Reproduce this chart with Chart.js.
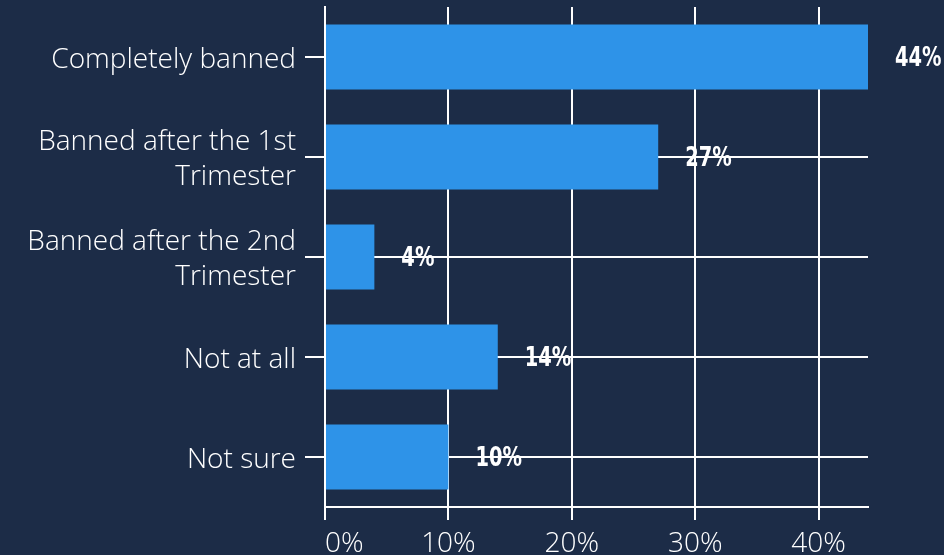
<!DOCTYPE html>
<html>
<head>
<meta charset="utf-8">
<script src="https://cdn.jsdelivr.net/npm/chart.js@4.4.0/dist/chart.umd.min.js"></script>
<style>
  html, body { margin: 0; padding: 0; background: #1c2c47; }
  #wrap { position: relative; width: 944px; height: 555px; }
</style>
</head>
<body>
<div id="wrap"><canvas id="chart"></canvas></div>
<script>
// Datos
const categories = [
  "Completely banned",
  ["Banned after the 1st", "Trimester"],
  ["Banned after the 2nd", "Trimester"],
  "Not at all",
  "Not sure"
];
const shares = [44, 27, 4, 14, 10];
const axisMax = 44;
const tickStep = 10;

const barColor = "#2e93e8";
const lineColor = "#ffffff";

// Etiquetas de valor al final de cada barra (sin plugin externo).
// La fuente se estrecha en horizontal para parecerse a la condensada original.
const valueLabels = {
  id: "valueLabels",
  afterDatasetsDraw(chart) {
    const { ctx } = chart;
    const meta = chart.getDatasetMeta(0);
    meta.data.forEach((bar, i) => {
      ctx.save();
      ctx.translate(bar.x + 27, bar.y + 2);
      ctx.scale(0.8, 1);
      ctx.fillStyle = "#ffffff";
      ctx.font = "bold 27px 'DejaVu Sans Condensed', 'DejaVu Sans', sans-serif";
      ctx.textAlign = "left";
      ctx.textBaseline = "middle";
      ctx.fillText(shares[i] + "%", 0, 0);
      ctx.restore();
    });
  }
};

const labelFont = { family: "'Open Sans', Lato, sans-serif", size: 28, weight: "300", lineHeight: 1.25 };

new Chart(document.getElementById("chart"), {
  type: "bar",
  data: {
    labels: categories,
    datasets: [{
      data: shares,
      backgroundColor: barColor,
      barPercentage: 0.65,
      categoryPercentage: 1.0
    }]
  },
  options: {
    indexAxis: "y",
    responsive: true,
    maintainAspectRatio: false,
    animation: false,
    layout: { padding: { top: 7, right: 76, left: 0, bottom: 0 } },
    plugins: {
      legend: { display: false },
      tooltip: { enabled: false }
    },
    scales: {
      x: {
        min: 0,
        max: axisMax,
        afterFit: (scale) => {
          scale.height = 48;
          scale.paddingLeft = 0;
          scale.paddingRight = 0;
        },
        border: { display: true, color: lineColor, width: 2 },
        grid: { color: lineColor, lineWidth: 2, tickLength: 13 },
        ticks: {
          stepSize: tickStep,
          includeBounds: false,
          color: lineColor,
          font: labelFont,
          padding: 7,
          maxRotation: 0,
          // el 0% aparece desplazado a la derecha en la referencia
          callback: (v) => (v === 0 ? "\u2007\u2007\u20080%" : v + "%")
        }
      },
      y: {
        afterFit: (scale) => {
          scale.width = 325;
          scale.paddingTop = 0;
          scale.paddingBottom = 0;
        },
        border: { display: true, color: lineColor, width: 2 },
        grid: { color: lineColor, lineWidth: 2, tickLength: 20, offset: false },
        ticks: {
          color: lineColor,
          font: labelFont,
          padding: 9,
          labelOffset: 3
        }
      }
    }
  },
  plugins: [valueLabels]
});
</script>
</body>
</html>
